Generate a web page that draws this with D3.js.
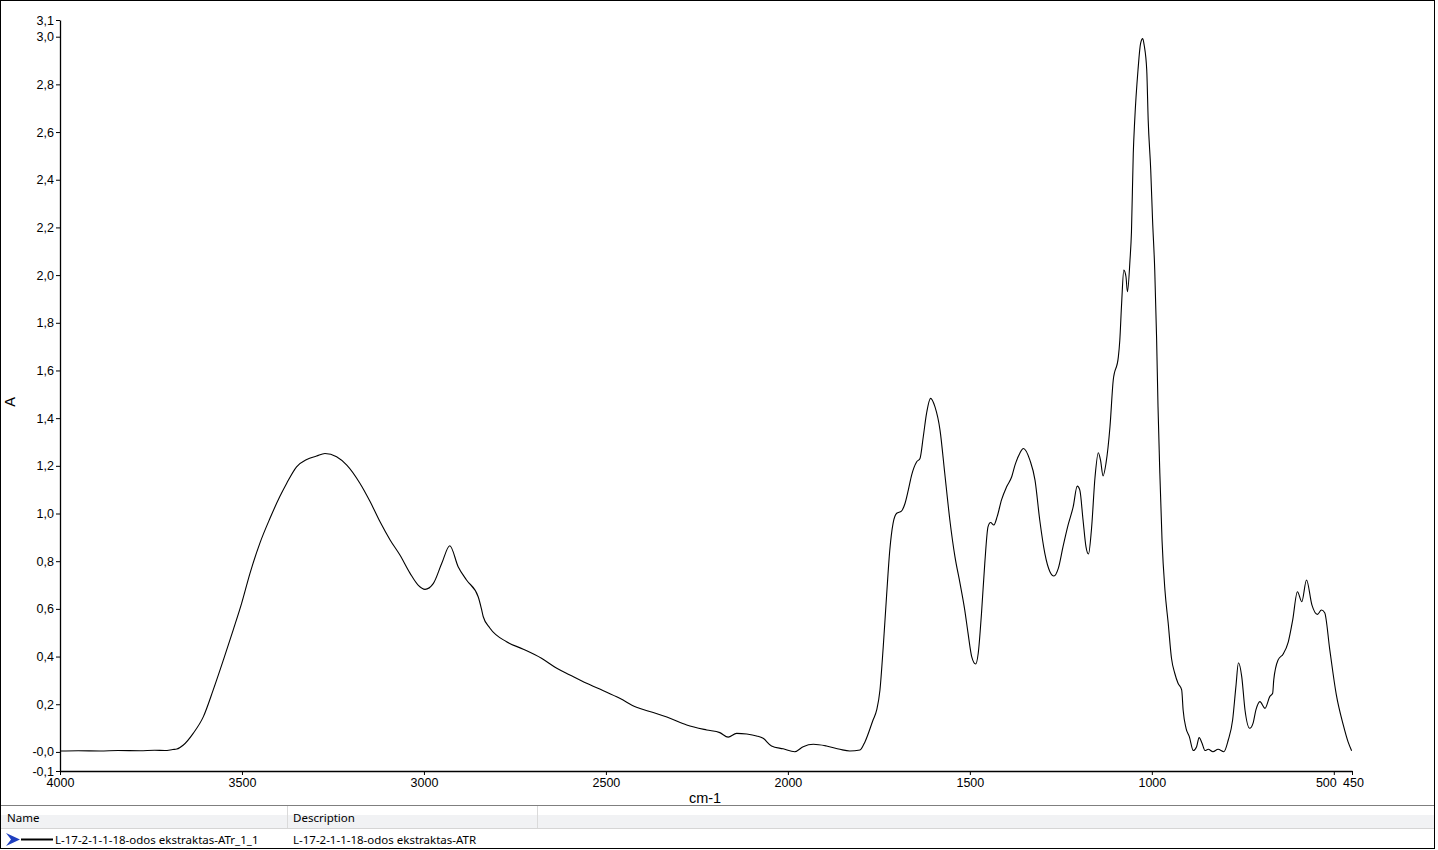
<!DOCTYPE html>
<html>
<head>
<meta charset="utf-8">
<script src="https://cdn.jsdelivr.net/npm/d3@7"></script>
<style>
  html, body { margin: 0; padding: 0; background: #fff; }
  svg { display: block; }
</style>
</head>
<body>
<svg id="chart" width="1438" height="850"></svg>
<script>
// ---- data ----
const wavenumbers = [
  4000, 3950, 3890, 3840, 3780, 3740, 3712, 3690, 3679, 3661, 3634, 3606, 3579, 3551, 3524, 3501,
  3478, 3451, 3423, 3396, 3377, 3350, 3322, 3295, 3272, 3240, 3212, 3176, 3148, 3121, 3093, 3066,
  3038, 3016, 2997, 2974, 2951, 2929, 2906, 2883, 2851, 2842, 2837, 2819, 2773, 2727, 2677, 2635,
  2599, 2553, 2507, 2462, 2416, 2370, 2324, 2278, 2223, 2187, 2164, 2141, 2113, 2086, 2068, 2045,
  2013, 1981, 1958, 1930, 1894, 1857, 1830, 1802, 1788, 1766, 1756, 1747, 1738, 1729, 1720, 1711,
  1701, 1688, 1678, 1669, 1660, 1646, 1637, 1628, 1619, 1608, 1596, 1582, 1569, 1555, 1541, 1527,
  1514, 1505, 1495, 1484, 1477, 1468, 1459, 1450, 1443, 1434, 1425, 1413, 1399, 1385, 1376, 1363,
  1353, 1335, 1321, 1308, 1294, 1280, 1269, 1257, 1244, 1230, 1216, 1205, 1198, 1189, 1181, 1174,
  1166, 1156, 1147, 1141, 1134, 1126, 1115, 1106, 1092, 1088, 1083, 1077, 1071, 1067, 1060, 1056,
  1051, 1047, 1038, 1031, 1025, 1021, 1014, 1010, 1003, 998, 992, 987, 983, 978, 972, 964,
  955, 946, 937, 928, 918, 914, 906, 897, 886, 877, 870, 862, 854, 845, 832, 818,
  802, 790, 778, 769, 762, 753, 744, 731, 722, 714, 703, 689, 676, 668, 665, 653,
  639, 625, 613, 600, 588, 575, 560, 545, 534, 525, 511, 493, 474, 461, 451
];
const absorbance = [
  0.004, 0.005, 0.004, 0.006, 0.005, 0.007, 0.006, 0.010, 0.012, 0.029, 0.078, 0.148, 0.260, 0.386, 0.512, 0.623,
  0.749, 0.875, 0.980, 1.071, 1.127, 1.196, 1.227, 1.241, 1.252, 1.238, 1.203, 1.127, 1.050, 0.966, 0.889, 0.826,
  0.749, 0.700, 0.682, 0.707, 0.791, 0.865, 0.777, 0.721, 0.651, 0.600, 0.567, 0.520, 0.462, 0.431, 0.393, 0.351,
  0.323, 0.288, 0.257, 0.225, 0.187, 0.165, 0.141, 0.113, 0.092, 0.081, 0.062, 0.078, 0.075, 0.067, 0.057, 0.025,
  0.013, 0.001, 0.022, 0.032, 0.025, 0.011, 0.004, 0.008, 0.043, 0.134, 0.176, 0.260, 0.441, 0.651, 0.847, 0.959,
  1.001, 1.010, 1.043, 1.099, 1.161, 1.217, 1.231, 1.322, 1.420, 1.483, 1.448, 1.350, 1.169, 0.973, 0.819, 0.707,
  0.595, 0.498, 0.400, 0.369, 0.414, 0.582, 0.791, 0.945, 0.962, 0.952, 0.987, 1.057, 1.112, 1.154, 1.203, 1.252,
  1.273, 1.224, 1.140, 0.973, 0.833, 0.756, 0.738, 0.770, 0.861, 0.952, 1.029, 1.115, 1.099, 0.973, 0.861, 0.830,
  0.931, 1.154, 1.255, 1.224, 1.158, 1.210, 1.364, 1.560, 1.657, 1.727, 1.881, 2.021, 1.993, 1.930, 2.063, 2.180,
  2.510, 2.650, 2.860, 2.971, 2.992, 2.964, 2.860, 2.650, 2.440, 2.231, 2.021, 1.741, 1.448, 1.169, 0.889, 0.679,
  0.540, 0.393, 0.330, 0.288, 0.260, 0.176, 0.099, 0.064, 0.006, 0.022, 0.060, 0.036, 0.006, 0.011, 0.001, 0.011,
  0.001, 0.050, 0.134, 0.274, 0.374, 0.316, 0.176, 0.099, 0.120, 0.176, 0.211, 0.183, 0.232, 0.246, 0.302, 0.386,
  0.411, 0.462, 0.553, 0.672, 0.630, 0.721, 0.616, 0.577, 0.595, 0.584, 0.428, 0.239, 0.113, 0.043, 0.005
];

const xDomain = [4000, 450];
const yDomain = [-0.08, 3.07];
const xTicks = [4000, 3500, 3000, 2500, 2000, 1500, 1000, 500, 450];
const xTickLabels = ["4000", "3500", "3000", "2500", "2000", "1500", "1000", "500", "450"];
const yTicks = [-0.08, 0.0, 0.2, 0.4, 0.6, 0.8, 1.0, 1.2, 1.4, 1.6, 1.8, 2.0, 2.2, 2.4, 2.6, 2.8, 3.0, 3.07];
const yTickLabels = ["-0,1", "-0,0", "0,2", "0,4", "0,6", "0,8", "1,0", "1,2", "1,4", "1,6", "1,8", "2,0", "2,2", "2,4", "2,6", "2,8", "3,0", "3,1"];
const xAxisTitle = "cm-1";
const yAxisTitle = "A";
const tableHeaders = ["Name", "Description"];
const tableRow = ["L-17-2-1-1-18-odos ekstraktas-ATr_1_1", "L-17-2-1-1-18-odos ekstraktas-ATR"];

// ---- drawing ----
const svg = d3.select("#chart");
const W = 1438, H = 850;
const plot = { left: 60, right: 1352, top: 20, bottom: 771 };
const axisFont = "'Liberation Sans', Arial, sans-serif";
const uiFont = "'Noto Sans', 'Open Sans', sans-serif";

svg.append("rect").attr("x", 0).attr("y", 0).attr("width", W).attr("height", H).attr("fill", "#fff");

const x = d3.scaleLinear().domain(xDomain).range([plot.left, plot.right]);
const y = d3.scaleLinear().domain(yDomain).range([plot.bottom, plot.top]);

const data = wavenumbers.map((w, i) => ({ w, a: absorbance[i] }));

// axes
const yAxis = d3.axisLeft(y).tickValues(yTicks).tickSize(4).tickSizeOuter(0)
  .tickFormat((d, i) => yTickLabels[i]);
const gy = svg.append("g").attr("transform", `translate(${plot.left},0)`).call(yAxis);

const xAxis = d3.axisBottom(x).tickValues(xTicks).tickSize(4).tickSizeOuter(0)
  .tickFormat((d, i) => xTickLabels[i]);
const gx = svg.append("g").attr("transform", `translate(0,${plot.bottom})`).call(xAxis);

[gx, gy].forEach(g => {
  g.attr("font-family", axisFont).attr("font-size", 12.5);
  g.selectAll("path.domain").attr("stroke", "#000").attr("stroke-width", 1.3);
  g.selectAll(".tick line").attr("stroke", "#000");
  g.selectAll(".tick text").attr("fill", "#000");
});
gy.selectAll(".tick text").attr("x", -6);
// the "500" label sits left of its tick so that it does not collide with "450"
gx.selectAll(".tick text").filter(d => d === 500).attr("dx", -8);
gx.selectAll(".tick text").filter(d => d === 450).attr("dx", 1);

// spectrum line
const line = d3.line()
  .x(d => x(d.w))
  .y(d => y(d.a))
  .curve(d3.curveMonotoneX);
svg.append("path").datum(data)
  .attr("d", line)
  .attr("fill", "none")
  .attr("stroke", "#000")
  .attr("stroke-width", 1.1)
  .attr("stroke-linejoin", "round");

// axis titles
svg.append("text").attr("x", 705).attr("y", 803)
  .attr("text-anchor", "middle").attr("font-family", axisFont).attr("font-size", 14.5)
  .attr("fill", "#000").text(xAxisTitle);
svg.append("text").attr("transform", "translate(15,402) rotate(-90)")
  .attr("text-anchor", "middle").attr("font-family", axisFont).attr("font-size", 14.5)
  .attr("fill", "#000").text(yAxisTitle);

// ---- table below chart ----
const tbl = svg.append("g");
tbl.append("rect").attr("x", 1).attr("y", 806).attr("width", 1433).attr("height", 9).attr("fill", "#ffffff");
tbl.append("rect").attr("x", 1).attr("y", 815).attr("width", 1433).attr("height", 13).attr("fill", "#f1f2f4");
tbl.append("line").attr("x1", 0).attr("x2", 1435).attr("y1", 805.5).attr("y2", 805.5).attr("stroke", "#7f7f7f");
tbl.append("line").attr("x1", 0).attr("x2", 1435).attr("y1", 828.5).attr("y2", 828.5).attr("stroke", "#d5d5d5");
[287.5, 537.5].forEach(cx => {
  tbl.append("line").attr("x1", cx).attr("x2", cx).attr("y1", 806).attr("y2", 828).attr("stroke", "#dadada");
});
tbl.append("line").attr("x1", 0).attr("x2", 1435).attr("y1", 848.5).attr("y2", 848.5).attr("stroke", "#6f6f6f");

const headerX = [7, 293];
tableHeaders.forEach((t, i) => {
  tbl.append("text").attr("x", headerX[i]).attr("y", 822).attr("font-family", uiFont)
    .attr("font-size", 11.5).attr("fill", "#000").text(t);
});
const rowX = [55, 293];
tableRow.forEach((t, i) => {
  tbl.append("text").attr("x", rowX[i]).attr("y", 843.5).attr("font-family", uiFont)
    .attr("font-size", 11.5).attr("fill", "#000").text(t);
});
// row icon: blue arrow and line sample
tbl.append("path").attr("d", "M6,833 L20,839.5 L6,846 L11,839.5 Z").attr("fill", "#1f3fbf");
tbl.append("line").attr("x1", 21).attr("x2", 53).attr("y1", 839.5).attr("y2", 839.5)
  .attr("stroke", "#000").attr("stroke-width", 2);

// outer frame
svg.append("rect").attr("x", 0.5).attr("y", 0.5).attr("width", 1434).attr("height", 848)
  .attr("fill", "none").attr("stroke", "#000");
</script>
</body>
</html>
